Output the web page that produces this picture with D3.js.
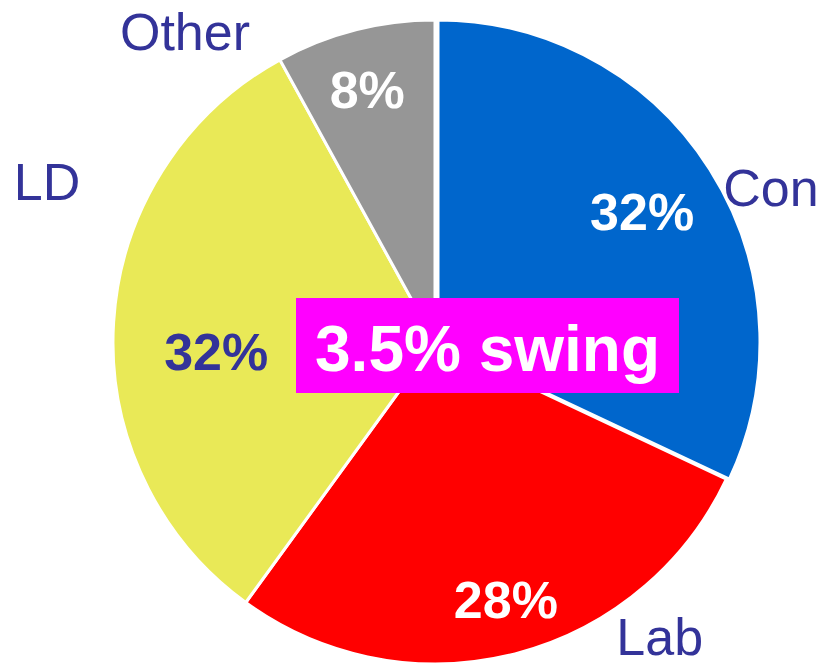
<!DOCTYPE html>
<html>
<head>
<meta charset="utf-8">
<script src="https://cdn.jsdelivr.net/npm/d3@7"></script>
<style>
  html, body { margin: 0; padding: 0; background: #ffffff; }
  svg { display: block; font-family: "Liberation Sans", Arial, sans-serif; }
</style>
</head>
<body>
<svg id="chart" width="836" height="666"></svg>
<script>
// Vote shares by party
const parties = ["Con", "Lab", "LD", "Other"];
const shares = [32, 28, 32, 8];
const sliceColors = ["#0066CC", "#FF0000", "#E9E957", "#969696"];
const valueTextColors = ["#FFFFFF", "#FFFFFF", "#333399", "#FFFFFF"];
const swingText = "3.5% swing";

const W = 836, H = 666;
const cx = 435, cy = 342, R = 322;
const nameColor = "#333399";

// Label placement (polar offsets from the pie centre: angle in degrees clockwise from 12 o'clock)
const valueLabelPolar = [[57.7, 245], [164.6, 267], [267.6, 219], [345, 262]];
const nameLabelPolar  = [[65.2, 370], [142.6, 370], [292.5, 420], [321.2, 399]];

const svg = d3.select("#chart");
const g = svg.append("g").attr("transform", `translate(${cx},${cy})`);

const pie = d3.pie().sort(null).value(d => d.value).startAngle(0).endAngle(2 * Math.PI);
const data = parties.map((p, i) => ({ party: p, value: shares[i], color: sliceColors[i], text: valueTextColors[i] }));
const arcs = pie(data);
const arc = d3.arc().innerRadius(0).outerRadius(R);

// Slices; the Con slice is pulled slightly to the right
g.selectAll("path.slice")
  .data(arcs)
  .join("path")
  .attr("class", "slice")
  .attr("d", arc)
  .attr("fill", d => d.data.color)
  .attr("stroke", "#ffffff")
  .attr("stroke-width", 3)
  .attr("stroke-linejoin", "round")
  .attr("transform", (d, i) => i === 0 ? "translate(3,0)" : null);

const polar = (deg, r) => {
  const a = deg * Math.PI / 180;
  return [r * Math.sin(a), -r * Math.cos(a)];
};

// Percentage labels inside each slice
g.selectAll("text.value")
  .data(arcs)
  .join("text")
  .attr("class", "value")
  .attr("x", (d, i) => polar(...valueLabelPolar[i])[0])
  .attr("y", (d, i) => polar(...valueLabelPolar[i])[1])
  .attr("dy", "0.36em")
  .attr("text-anchor", "middle")
  .attr("font-size", 52)
  .attr("font-weight", "bold")
  .attr("fill", d => d.data.text)
  .text(d => d.data.value + "%");

// Party names around the pie
g.selectAll("text.name")
  .data(arcs)
  .join("text")
  .attr("class", "name")
  .attr("x", (d, i) => polar(...nameLabelPolar[i])[0])
  .attr("y", (d, i) => polar(...nameLabelPolar[i])[1])
  .attr("dy", "0.36em")
  .attr("text-anchor", "middle")
  .attr("font-size", 52)
  .attr("fill", nameColor)
  .text(d => d.data.party);

// Swing callout box
const box = svg.append("g");
box.append("rect")
  .attr("x", 296).attr("y", 298)
  .attr("width", 383).attr("height", 95)
  .attr("fill", "#FF00FF");
box.append("text")
  .attr("x", 296 + 383 / 2)
  .attr("y", 371)
  .attr("text-anchor", "middle")
  .attr("font-size", 64)
  .attr("font-weight", "bold")
  .attr("fill", "#ffffff")
  .text(swingText);
</script>
</body>
</html>
